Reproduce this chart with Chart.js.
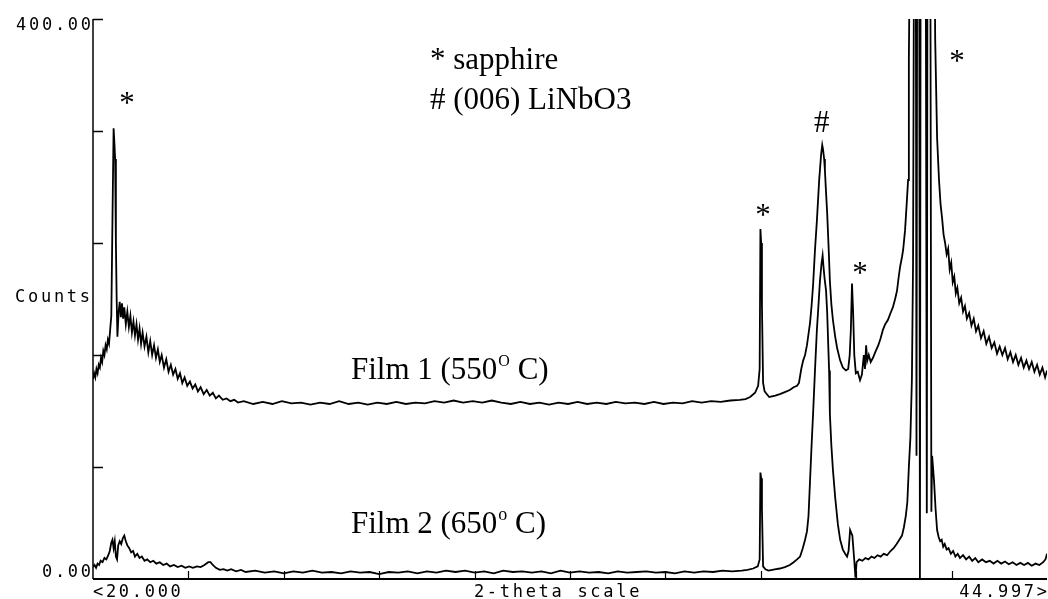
<!DOCTYPE html>
<html>
<head>
<meta charset="utf-8">
<script src="https://cdn.jsdelivr.net/npm/chart.js@4.4.1/dist/chart.umd.min.js"></script>
<style>
  html, body { margin: 0; padding: 0; background: #fff; }
  #wrap { width: 1048px; height: 599px; position: relative; }
</style>
</head>
<body>
<div id="wrap"><canvas id="xrdChart"></canvas></div>
<script>
// XRD scans of two LiNbO3 films on sapphire

// Film 1 (550 C) - 2-theta and counts
const film1Angle = [
  20.00, 20.03, 20.06, 20.09, 20.12, 20.15, 20.18, 20.21, 20.24, 20.27,
  20.30, 20.33, 20.36, 20.39, 20.42, 20.45, 20.48, 20.51, 20.54, 20.56,
  20.58, 20.60, 20.62, 20.64, 20.67, 20.70, 20.73, 20.76, 20.79, 20.82,
  20.86, 20.90, 20.94, 20.98, 21.02, 21.06, 21.10, 21.14, 21.18, 21.22,
  21.26, 21.30, 21.35, 21.40, 21.45, 21.50, 21.55, 21.60, 21.65, 21.70,
  21.75, 21.80, 21.86, 21.92, 21.98, 22.04, 22.10, 22.16, 22.22, 22.28,
  22.34, 22.40, 22.47, 22.54, 22.61, 22.68, 22.75, 22.82, 22.90, 22.98,
  23.06, 23.14, 23.22, 23.30, 23.40, 23.50, 23.60, 23.70, 23.80, 23.95,
  24.20, 24.45, 24.70, 24.95, 25.20, 25.45, 25.70, 25.95, 26.20, 26.45,
  26.70, 26.95, 27.20, 27.45, 27.70, 27.95, 28.20, 28.45, 28.70, 28.95,
  29.20, 29.45, 29.70, 29.95, 30.20, 30.45, 30.70, 30.95, 31.20, 31.45,
  31.70, 31.95, 32.20, 32.45, 32.70, 32.95, 33.20, 33.45, 33.70, 33.95,
  34.20, 34.45, 34.70, 34.95, 35.20, 35.45, 35.70, 35.95, 36.20, 36.45,
  36.70, 36.95, 37.10, 37.22, 37.35, 37.43, 37.47, 37.49, 37.51, 37.53,
  37.56, 37.60, 37.66, 37.72, 37.79, 37.88, 38.00, 38.13, 38.26, 38.36,
  38.45, 38.50, 38.56, 38.61, 38.66, 38.71, 38.75, 38.79, 38.83, 38.87,
  38.92, 38.97, 39.03, 39.08, 39.11, 39.13, 39.16, 39.18, 39.21, 39.24,
  39.28, 39.31, 39.35, 39.39, 39.45, 39.50, 39.58, 39.65, 39.73, 39.79,
  39.83, 39.86, 39.89, 39.92, 39.95, 39.99, 40.04, 40.10, 40.15, 40.20,
  40.23, 40.26, 40.29, 40.33, 40.38, 40.44, 40.50, 40.58, 40.64, 40.70,
  40.76, 40.83, 40.90, 40.96, 41.02, 41.07, 41.11, 41.15, 41.20, 41.23,
  41.28, 41.33, 41.36, 41.38, 41.42, 41.70, 42.04, 42.07, 42.12, 42.17,
  42.21, 42.25, 42.29, 42.33, 42.37, 42.41, 42.45, 42.49, 42.53, 42.57,
  42.61, 42.65, 42.70, 42.75, 42.80, 42.85, 42.90, 42.96, 43.02, 43.08,
  43.14, 43.20, 43.27, 43.34, 43.41, 43.48, 43.55, 43.62, 43.69, 43.76,
  43.83, 43.90, 43.97, 44.04, 44.11, 44.18, 44.25, 44.32, 44.39, 44.46,
  44.53, 44.60, 44.67, 44.74, 44.81, 44.88, 44.95, 45.00
];
const film1Counts = [
  143, 147, 144, 150, 147, 153, 151, 158, 155, 163,
  160, 167, 164, 171, 168, 178, 188, 256, 322, 312,
  300, 240, 200, 173, 190, 198, 187, 197, 186, 194,
  182, 191, 180, 188, 176, 184, 174, 182, 171, 179,
  168, 176, 166, 173, 162, 170, 160, 167, 158, 164,
  155, 160, 151, 157, 148, 153, 146, 150, 143, 147,
  140, 144, 138, 141, 136, 139, 134, 137, 132, 135,
  131, 133, 129, 131, 128, 129, 127, 128, 126, 127,
  125, 126.5, 125, 127, 125.5, 126, 124.5, 126, 125, 127,
  125, 126, 124.5, 126, 125, 126.5, 125, 126, 125.5, 127,
  126, 127.5, 126, 127, 126, 127.5, 126, 125, 126.5, 125,
  126, 124.5, 126, 125, 126.5, 125, 126, 125, 126.5, 125.5,
  126, 125, 126.5, 125, 126, 125.5, 127, 126, 127, 126.5,
  127.5, 128, 128.5, 130, 133, 138, 150, 250, 240, 195,
  140, 134, 132, 130, 130.5, 131, 132, 133.5, 135, 137,
  138, 140, 150, 156, 160, 167, 175, 183, 195, 210,
  235, 256, 285, 303, 310, 307, 300, 292, 276, 261,
  235, 213, 196, 185, 173, 165, 156, 151, 149, 150,
  160, 178, 211, 190, 160, 147, 148, 142, 146, 160,
  150, 167, 156, 160, 155, 158, 162, 167, 172, 178,
  182, 185, 190, 194, 200, 206, 215, 223, 230, 235,
  249, 271, 285, 371, 500, 900, 500, 385, 315, 285,
  268, 258, 246, 240, 232, 236, 221, 226, 212, 216,
  204, 208, 197, 201, 191, 195, 186, 190, 181, 186,
  177, 181, 172, 177, 168, 173, 165, 169, 161, 166,
  160, 165, 157, 162, 155, 160, 153, 158, 151, 156,
  150, 155, 148, 153, 146, 151, 144, 149
];

// Film 2 (650 C) - 2-theta and counts
const film2Angle = [
  20.00, 20.04, 20.08, 20.12, 20.16, 20.20, 20.25, 20.30, 20.35, 20.40,
  20.44, 20.48, 20.51, 20.54, 20.57, 20.60, 20.63, 20.66, 20.70, 20.74,
  20.78, 20.82, 20.86, 20.90, 20.95, 21.00, 21.05, 21.10, 21.16, 21.22,
  21.28, 21.35, 21.42, 21.50, 21.58, 21.66, 21.75, 21.84, 21.93, 22.02,
  22.12, 22.22, 22.32, 22.42, 22.52, 22.62, 22.72, 22.82, 22.92, 23.02,
  23.08, 23.14, 23.22, 23.32, 23.42, 23.52, 23.62, 23.75, 23.88, 24.00,
  24.25, 24.50, 24.75, 25.00, 25.25, 25.50, 25.75, 26.00, 26.25, 26.50,
  26.75, 27.00, 27.25, 27.50, 27.75, 28.00, 28.25, 28.50, 28.75, 29.00,
  29.25, 29.50, 29.75, 30.00, 30.25, 30.50, 30.75, 31.00, 31.25, 31.50,
  31.75, 32.00, 32.25, 32.50, 32.75, 33.00, 33.25, 33.50, 33.75, 34.00,
  34.25, 34.50, 34.75, 35.00, 35.25, 35.50, 35.75, 36.00, 36.25, 36.50,
  36.75, 37.00, 37.15, 37.30, 37.42, 37.47, 37.49, 37.51, 37.53, 37.56,
  37.62, 37.70, 37.80, 37.90, 38.00, 38.13, 38.26, 38.36, 38.45, 38.53,
  38.60, 38.66, 38.71, 38.75, 38.79, 38.83, 38.87, 38.92, 38.97, 39.01,
  39.05, 39.09, 39.12, 39.14, 39.17, 39.21, 39.24, 39.27, 39.29, 39.31,
  39.35, 39.39, 39.45, 39.52, 39.58, 39.65, 39.71, 39.76, 39.80, 39.84,
  39.87, 39.90, 39.95, 39.98, 40.01, 40.08, 40.16, 40.24, 40.32, 40.40,
  40.48, 40.56, 40.64, 40.72, 40.81, 40.90, 40.98, 41.06, 41.13, 41.20,
  41.25, 41.30, 41.34, 41.38, 41.42, 41.46, 41.49, 41.52, 41.56, 41.58,
  41.60, 41.65, 41.67, 41.69, 41.82, 41.85, 41.87, 41.94, 41.97, 41.99,
  42.04, 42.08, 42.12, 42.16, 42.20, 42.24, 42.28, 42.32, 42.37, 42.42,
  42.48, 42.54, 42.60, 42.66, 42.72, 42.80, 42.88, 42.96, 43.04, 43.12,
  43.20, 43.30, 43.40, 43.50, 43.60, 43.70, 43.80, 43.90, 44.00, 44.10,
  44.20, 44.30, 44.40, 44.50, 44.60, 44.70, 44.80, 44.90, 44.96, 45.00
];
const film2Counts = [
  8.5, 10, 8, 11, 10, 13, 12, 15, 14, 17,
  20, 26, 28, 22, 27, 16, 14, 24, 27, 25,
  29, 31, 27, 24, 22, 19, 20, 16, 18, 15,
  16, 13, 14, 12, 13, 11, 12, 10, 11, 9,
  10, 8.5, 9.5, 8, 9, 8, 9, 8.5, 10, 12,
  12, 10, 8, 6.5, 7, 6, 7, 5.5, 6.5, 5,
  6, 4.5, 5.5, 4, 5.5, 4.5, 6, 4.5, 5, 4,
  5.5, 4.5, 5, 3.5, 5, 4.5, 5.5, 4, 5.5, 4.5,
  6, 5, 6, 4.5, 5.5, 4, 6, 5, 5.5, 4.5,
  5.5, 4, 6, 4.5, 5.5, 4.5, 5, 4, 5.5, 4.5,
  5, 5.5, 4.5, 5, 4, 5.5, 4.5, 5.5, 5, 6,
  5.5, 6, 6.5, 7.5, 9, 14, 76, 72, 50, 9,
  7, 6, 6.5, 7, 7.5, 8.5, 10, 12, 14, 16,
  22, 28, 34, 45, 70, 95, 118, 149, 178, 195,
  213, 225, 231, 224, 215, 206, 190, 165, 149, 118,
  95, 78, 58, 39, 28, 21, 18, 16, 20, 35,
  33, 31, 13, 1, 12, 14, 13, 15, 14, 16,
  15, 17, 16, 18, 17, 20, 22, 25, 28, 31,
  37, 45, 55, 80, 101, 143, 226, 500, 500, 88,
  500, 500, 0, 500, 500, 47, 500, 500, 48, 88,
  70, 50, 35, 30, 27, 28, 23, 25, 21, 22,
  18, 20, 16, 18, 15, 17, 14, 16, 13, 15,
  12, 14, 12, 13, 11, 13, 11, 12.5, 10.5, 12,
  10, 11.5, 10, 11.5, 9.5, 11, 10, 12, 14, 18
];

// Axis settings
const xMin = 20, xMax = 45, xStep = 2.5;
const yMin = 0, yMax = 400, yStep = 80;
const xLeftLabel = '<20.000';
const xRightLabel = '44.997>';
const xTitle = '2-theta scale';
const yTopLabel = '400.00';
const yBottomLabel = '0.00';
const yTitle = 'Counts';

const toPoints = (xs, ys) => xs.map((x, i) => ({ x: x, y: ys[i] }));

const monoFont = '17px "DejaVu Sans Mono", monospace';
const monoGap = 2.7;
const serifFont = '31px "Liberation Serif", "Times New Roman", serif';

// Draws the old-style plotter axes: left and bottom lines with inward ticks
const axesPlugin = {
  id: 'plotterAxes',
  afterDatasetsDraw(chart) {
    const { ctx, chartArea: a, scales: { x, y } } = chart;
    ctx.save();
    ctx.strokeStyle = '#000';
    ctx.fillStyle = '#000';

    // left axis
    ctx.lineWidth = 1.5;
    ctx.beginPath();
    ctx.moveTo(a.left, a.bottom);
    ctx.lineTo(a.left, a.top);
    ctx.stroke();
    // y ticks pointing inward
    for (let v = yMin + yStep; v <= yMax; v += yStep) {
      const py = Math.round(y.getPixelForValue(v)) + 0.5;
      ctx.beginPath();
      ctx.moveTo(a.left, py);
      ctx.lineTo(a.left + 10, py);
      ctx.stroke();
    }

    // bottom axis
    ctx.lineWidth = 2;
    ctx.beginPath();
    ctx.moveTo(a.left, a.bottom);
    ctx.lineTo(a.right, a.bottom);
    ctx.stroke();
    ctx.lineWidth = 1.2;
    for (let v = xMin + xStep; v < xMax; v += xStep) {
      const px = Math.round(x.getPixelForValue(v)) + 0.5;
      ctx.beginPath();
      ctx.moveTo(px, a.bottom);
      ctx.lineTo(px, a.bottom - 8);
      ctx.stroke();
    }

    // axis texts
    ctx.font = monoFont;
    ctx.letterSpacing = monoGap + 'px';
    ctx.textBaseline = 'middle';
    ctx.textAlign = 'right';
    ctx.fillText(yTopLabel, a.left + monoGap - 2, a.top + 7);
    ctx.fillText(yBottomLabel, a.left + monoGap - 2, a.bottom - 6);
    ctx.fillText(yTitle, a.left + monoGap - 3, y.getPixelForValue(200) - 1);

    const ly = a.bottom + 14;
    ctx.textAlign = 'left';
    ctx.fillText(xLeftLabel, a.left, ly);
    ctx.textAlign = 'center';
    ctx.fillText(xTitle, x.getPixelForValue(32.15) + monoGap / 2, ly);
    ctx.textAlign = 'right';
    ctx.fillText(xRightLabel, a.right + monoGap, ly);
    ctx.restore();
  }
};

// Peak markers and legend text
const notesPlugin = {
  id: 'notes',
  afterDatasetsDraw(chart) {
    const { ctx, scales: { x, y } } = chart;
    ctx.save();
    ctx.fillStyle = '#000';
    ctx.font = serifFont;
    ctx.textBaseline = 'alphabetic';

    // legend lines
    ctx.textAlign = 'left';
    ctx.fillText('* sapphire', x.getPixelForValue(28.83), y.getPixelForValue(364.3));
    ctx.fillText('# (006) LiNbO3', x.getPixelForValue(28.83), y.getPixelForValue(335.7));

    // peak markers
    ctx.textAlign = 'center';
    ctx.textBaseline = 'middle';
    const marks = [
      ['*', 20.89, 342],
      ['*', 37.56, 262],
      ['#', 39.10, 329],
      ['*', 40.10, 221],
      ['*', 42.64, 372]
    ];
    marks.forEach(m => {
      ctx.fillText(m[0], x.getPixelForValue(m[1]), y.getPixelForValue(m[2]) + 5);
    });

    // film labels with superscript degree
    ctx.textBaseline = 'alphabetic';
    ctx.textAlign = 'left';
    const drawLabel = (pre, sup, supFont, supRise, post, bx, by) => {
      let px = x.getPixelForValue(bx);
      const py = y.getPixelForValue(by);
      ctx.font = serifFont;
      ctx.fillText(pre, px, py);
      px += ctx.measureText(pre).width + 1;
      ctx.font = supFont;
      ctx.fillText(sup, px, py - supRise);
      px += ctx.measureText(sup).width;
      ctx.font = serifFont;
      ctx.fillText(post, px, py);
    };
    drawLabel('Film 1 (550', 'O', '16px "Liberation Serif", serif', 13, ' C)', 26.76, 142.9);
    drawLabel('Film 2 (650', 'o', '18px "Liberation Serif", serif', 13, ' C)', 26.76, 32.9);
    ctx.restore();
  }
};

const ctx = document.getElementById('xrdChart');

new Chart(ctx, {
  type: 'line',
  data: {
    datasets: [
      {
        label: 'Film 1 (550 C)',
        data: toPoints(film1Angle, film1Counts),
        borderColor: '#000',
        borderWidth: 1.8,
        pointRadius: 0,
        tension: 0,
        fill: false,
        clip: 0
      },
      {
        label: 'Film 2 (650 C)',
        data: toPoints(film2Angle, film2Counts),
        borderColor: '#000',
        borderWidth: 1.8,
        pointRadius: 0,
        tension: 0,
        fill: false,
        clip: 0
      }
    ]
  },
  options: {
    responsive: true,
    maintainAspectRatio: false,
    animation: false,
    layout: {
      padding: { left: 93, right: 1, top: 19, bottom: 20 }
    },
    plugins: {
      legend: { display: false },
      tooltip: { enabled: false }
    },
    scales: {
      x: { type: 'linear', min: xMin, max: xMax, display: false },
      y: { type: 'linear', min: yMin, max: yMax, display: false }
    }
  },
  plugins: [axesPlugin, notesPlugin]
});
</script>
</body>
</html>
